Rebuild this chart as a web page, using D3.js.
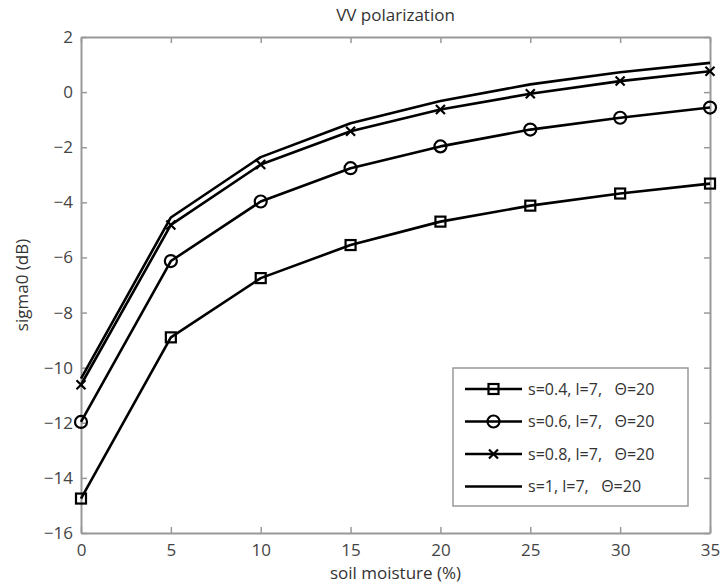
<!DOCTYPE html>
<html lang="en">
<head>
<meta charset="UTF-8">
<title>VV polarization</title>
<script src="https://d3js.org/d3.v7.min.js"></script>
<style>
  body { margin: 0; background: #fff; }
  svg { display: block; font-family: "Open Sans", sans-serif; }
</style>
</head>
<body>
<svg></svg>
<script>
// soil moisture (%)
const moisture = [0, 5, 10, 15, 20, 25, 30, 35];
const s04 = [-14.75, -8.9, -6.75, -5.55, -4.7, -4.12, -3.68, -3.32];
const s06 = [-11.97, -6.13, -3.97, -2.76, -1.97, -1.36, -0.93, -0.56];
const s08 = [-10.62, -4.82, -2.63, -1.42, -0.63, -0.06, 0.4, 0.76];
const s10 = [-10.4, -4.55, -2.36, -1.13, -0.32, 0.28, 0.72, 1.06];
const labels = ["s=0.4, l=7,   \u0398=20", "s=0.6, l=7,   \u0398=20", "s=0.8, l=7,   \u0398=20", "s=1, l=7,   \u0398=20"];
const markers = ["square", "circle", "x", "none"];
const xTicks = [0, 5, 10, 15, 20, 25, 30, 35];
const yTicks = [-16, -14, -12, -10, -8, -6, -4, -2, 0, 2];

const width = 720, height = 587;
const margin = {top: 37, right: 10, bottom: 54, left: 81};
const fs = "17px";

const svg = d3.select("svg").attr("width", width).attr("height", height);

const x = d3.scaleLinear().domain([0, 35]).range([margin.left, width - margin.right]);
const y = d3.scaleLinear().domain([-16, 2]).range([height - margin.bottom, margin.top]);

const axisColor = "#999";
const fmt = d => d < 0 ? "\u2212" + Math.abs(d) : d;

// box + ticks (matlab style, ticks inward)
function styleAxis(g) {
  g.selectAll(".domain").attr("stroke", axisColor).attr("stroke-width", 2);
  g.selectAll(".tick line").attr("stroke", axisColor).attr("stroke-width", 1.5);
  g.selectAll(".tick text").attr("fill", "#444").style("font-size", fs).style("font-family", "Open Sans");
}
svg.append("g").attr("transform", `translate(0,${y(-16)})`)
  .call(d3.axisBottom(x).tickValues(xTicks).tickSizeInner(-6).tickSizeOuter(0).tickPadding(11).tickFormat(fmt))
  .call(styleAxis);
svg.append("g").attr("transform", `translate(0,${y(2)})`)
  .call(d3.axisTop(x).tickValues(xTicks).tickSizeInner(-6).tickSizeOuter(0).tickFormat(""))
  .call(styleAxis);
svg.append("g").attr("transform", `translate(${x(0)},0)`)
  .call(d3.axisLeft(y).tickValues(yTicks).tickSizeInner(-6).tickSizeOuter(0).tickPadding(8).tickFormat(fmt))
  .call(styleAxis);
svg.append("g").attr("transform", `translate(${x(35)},0)`)
  .call(d3.axisRight(y).tickValues(yTicks).tickSizeInner(-6).tickSizeOuter(0).tickFormat(""))
  .call(styleAxis);

// title and axis labels
svg.append("text").attr("x", (x(0) + x(35)) / 2).attr("y", 21)
  .attr("text-anchor", "middle").style("font-size", fs).attr("fill", "#333")
  .text("VV polarization");
svg.append("text").attr("x", (x(0) + x(35)) / 2).attr("y", 579)
  .attr("text-anchor", "middle").style("font-size", fs).attr("fill", "#333")
  .text("soil moisture (%)");
svg.append("text").attr("transform", `translate(28,${(y(-16) + y(2)) / 2}) rotate(-90)`)
  .attr("text-anchor", "middle").style("font-size", fs).attr("fill", "#333")
  .text("sigma0 (dB)");

function drawMarker(g, type, cx, cy) {
  if (type === "square") {
    g.append("rect").attr("x", cx - 5).attr("y", cy - 5).attr("width", 10).attr("height", 10)
      .attr("fill", "none").attr("stroke", "#000").attr("stroke-width", 2.2);
  } else if (type === "circle") {
    g.append("circle").attr("cx", cx).attr("cy", cy).attr("r", 6)
      .attr("fill", "none").attr("stroke", "#000").attr("stroke-width", 2.2);
  } else if (type === "x") {
    g.append("path").attr("d", `M${cx - 4.5},${cy - 4.5}L${cx + 4.5},${cy + 4.5}M${cx - 4.5},${cy + 4.5}L${cx + 4.5},${cy - 4.5}`)
      .attr("stroke", "#000").attr("stroke-width", 2.2);
  }
}

const series = [s04, s06, s08, s10];
const line = d3.line().x((d, i) => x(moisture[i])).y(d => y(d));

series.forEach((vals, k) => {
  const g = svg.append("g");
  g.append("path").datum(vals).attr("d", line)
    .attr("fill", "none").attr("stroke", "#000").attr("stroke-width", 2.6).attr("stroke-linejoin", "round");
  vals.forEach((v, i) => drawMarker(g, markers[k], x(moisture[i]), y(v)));
});

// legend
const lg = svg.append("g");
lg.append("rect").attr("x", 453).attr("y", 368).attr("width", 235).attr("height", 138)
  .attr("fill", "#fff").attr("stroke", axisColor).attr("stroke-width", 1.5);
labels.forEach((t, k) => {
  const ly = 389 + k * 32.5;
  lg.append("line").attr("x1", 465).attr("x2", 522).attr("y1", ly).attr("y2", ly)
    .attr("stroke", "#000").attr("stroke-width", 2.6);
  drawMarker(lg, markers[k], 493.5, ly);
  lg.append("text").attr("x", 528).attr("y", ly).attr("dy", "0.35em")
    .style("font-size", "16px").attr("fill", "#333").attr("xml:space", "preserve").text(t);
});
</script>
</body>
</html>
